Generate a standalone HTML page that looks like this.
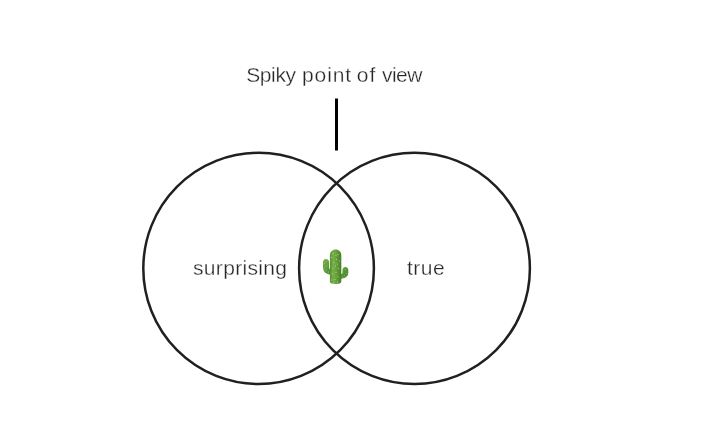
<!DOCTYPE html>
<html lang="en">
<head>
<meta charset="utf-8">
<title>Spiky point of view</title>
<style>
  html, body { margin: 0; padding: 0; background: #ffffff; }
  body { width: 706px; height: 448px; overflow: hidden; position: relative;
         font-family: "Liberation Sans", sans-serif; color: #2e2e2e; }
  svg.diagram { position: absolute; left: 0; top: 0; display: block; }
  .lbl { position: absolute; white-space: nowrap; line-height: 1; font-weight: 400; transform: translateZ(0); will-change: transform; -webkit-text-stroke: 0.3px #ffffff; }
  #title { left: 0; top: 64.3px; width: 706px; height: 21px; font-size: 21px; color:#262626; }
  #title span { position: absolute; top: 0; }
  #w1 { left: 246.2px; letter-spacing: -0.38px; }
  #w2 { left: 302px; letter-spacing: 0.9px; }
  #w3 { left: 356.8px; letter-spacing: 0.92px; }
  #w4 { left: 382px; letter-spacing: -0.55px; }
  #left  { left: 192.9px; top: 257.3px; font-size: 21px; letter-spacing: 0.32px; color:#262626; }
  #right { left: 407px; top: 257.3px; font-size: 21px; letter-spacing: 0.5px; color:#262626; }
</style>
</head>
<body>
<svg class="diagram" width="706" height="448" viewBox="0 0 706 448">
  <!-- pointer line -->
  <line x1="336.5" y1="98.5" x2="336.5" y2="150.5" stroke="#000" stroke-width="3"/>
  <!-- venn circles -->
  <ellipse cx="258.6" cy="268.4" rx="115.3" ry="115.6" fill="none" stroke="#202020" stroke-width="2.5"/>
  <ellipse cx="414.5" cy="268.4" rx="115.4" ry="115.6" fill="none" stroke="#202020" stroke-width="2.5"/>
  <!-- cactus -->
  <g id="cactus">
    <defs>
      <linearGradient id="cg" x1="0" y1="0" x2="1" y2="0">
        <stop offset="0" stop-color="#55932f"/>
        <stop offset="0.3" stop-color="#74b04a"/>
        <stop offset="0.6" stop-color="#639f3a"/>
        <stop offset="1" stop-color="#437f26"/>
      </linearGradient>
      <linearGradient id="la" x1="0" y1="0" x2="1" y2="1">
        <stop offset="0" stop-color="#75b24a"/>
        <stop offset="1" stop-color="#4a8a2d"/>
      </linearGradient>
      <linearGradient id="ra" x1="0" y1="0" x2="1" y2="1">
        <stop offset="0" stop-color="#6aa841"/>
        <stop offset="1" stop-color="#437f27"/>
      </linearGradient>
    </defs>
    <!-- left arm -->
    <path d="M326 258.9 C324.2 258.9 323 260.3 323 262.2 L323 267.5 C323 272 326.5 274.6 331 274.6 L331 269.5 C329.7 269.7 329.1 268.7 329.1 267.3 L329.1 262.2 C329.1 260.3 327.8 258.9 326 258.9 Z" fill="url(#la)"/>
    <!-- right arm -->
    <path d="M345.4 267.1 C347.1 267.1 348.3 268.4 348.3 270.2 L348.3 272.6 C348.3 276.6 345 278.8 340.5 278.8 L340.5 274.3 C341.9 274.3 342.5 273.5 342.5 272.3 L342.5 270.2 C342.5 268.4 343.7 267.1 345.4 267.1 Z" fill="url(#ra)"/>
    <!-- trunk -->
    <path d="M335.6 249.5 C332.2 249.5 329.9 252 329.9 255.4 L329.9 281.6 C329.9 283.4 332.4 284.1 335.6 284.1 C338.8 284.1 341.3 283.4 341.3 281.6 L341.3 255.4 C341.3 252 339 249.5 335.6 249.5 Z" fill="url(#cg)"/>
    <!-- spines -->
    <g fill="#f1cdb9">
      <circle cx="332.9" cy="253.7" r="0.5"/><circle cx="336" cy="255.3" r="0.5"/><circle cx="338" cy="254.6" r="0.5"/>
      <circle cx="331.5" cy="257.3" r="0.5"/><circle cx="336.5" cy="259.4" r="0.5"/><circle cx="339.5" cy="260.9" r="0.5"/>
      <circle cx="333.9" cy="262.5" r="0.5"/><circle cx="337.5" cy="264" r="0.5"/><circle cx="335.5" cy="266" r="0.5"/>
      <circle cx="332.9" cy="268.1" r="0.5"/><circle cx="338.6" cy="268.6" r="0.5"/><circle cx="336" cy="272.2" r="0.5"/>
      <circle cx="332.4" cy="273.7" r="0.5"/><circle cx="338" cy="276.8" r="0.5"/><circle cx="335" cy="279.4" r="0.5"/>
      <circle cx="331.6" cy="279.9" r="0.5"/><circle cx="337.5" cy="281.9" r="0.5"/><circle cx="333.9" cy="283" r="0.5"/>
      <circle cx="326.8" cy="260.9" r="0.45"/><circle cx="324.7" cy="263.5" r="0.45"/><circle cx="326.3" cy="266" r="0.45"/>
      <circle cx="324.3" cy="268.1" r="0.45"/><circle cx="326.3" cy="270.4" r="0.45"/><circle cx="328.4" cy="272" r="0.45"/>
      <circle cx="345.7" cy="269.6" r="0.45"/><circle cx="346.8" cy="273.2" r="0.45"/><circle cx="344.7" cy="275.8" r="0.45"/>
      <circle cx="343" cy="277.4" r="0.45"/>
    </g>
  </g>
</svg>
<div class="lbl" id="title"><span id="w1">Spiky</span> <span id="w2">point</span> <span id="w3">of</span> <span id="w4">view</span></div>
<div class="lbl" id="left">surprising</div>
<div class="lbl" id="right">true</div>
</body>
</html>
